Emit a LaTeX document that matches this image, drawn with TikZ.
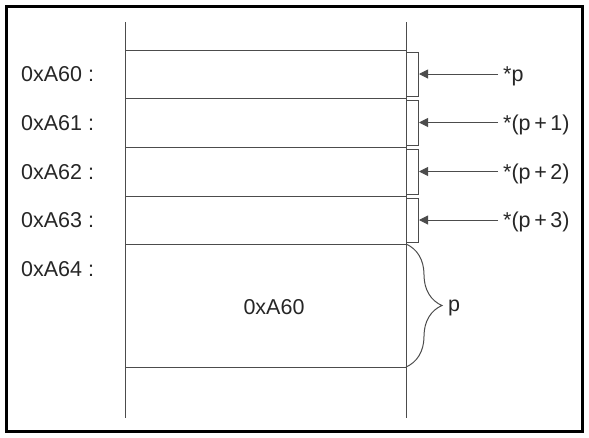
\documentclass[tikz,border=0pt]{standalone}
\usepackage{fontspec}
\setmainfont{Liberation Sans}
\usetikzlibrary{arrows.meta,decorations.pathreplacing}
\begin{document}
\begin{tikzpicture}[
x=1pt,y=-1pt,
line/.style={draw=black!70,line width=1pt},
lbl/.style={anchor=base west,inner sep=0pt,font=\fontsize{21.5}{24}\selectfont,text=black!85},
ptr/.style={line,-{Triangle[length=9pt,width=9pt]}}
]
\useasboundingbox (0,0) rectangle (589,437);
\draw[line width=3pt] (6,6) rectangle (582,431);
\draw[line] (125,22) -- (125,418);
\draw[line] (406,22) -- (406,418);
\foreach \y in {50,98,147,196,244,367}
	\draw[line] (125,\y) -- (406,\y);
\foreach \i/\t/\b/\s in {0/50/98/{*p},1/98/147/{*(p\,+\,1)},2/147/196/{*(p\,+\,2)},3/196/244/{*(p\,+\,3)}}
{
	\draw[line] (406,\t+2) -- (418,\t+2) -- (418,\b-2) -- (406,\b-2);
	\coordinate (b\i) at (419,{(\t+\b)/2});
	\node[lbl] (a\i) at (21,{(\t+\b)/2+7.5}) {0xA6\i{} :};
	\node[lbl] (s\i) at (503,{(\t+\b)/2+7.5}) {\s};
	\draw[ptr] ([xshift=-5pt,yshift=7.5pt]s\i.base west) -- (b\i);
}
\node[lbl] (a4) at (21,276) {0xA64 :};
\node[lbl,anchor=base] (val) at (274,314) {0xA60};
\draw[line,decorate,decoration={brace,amplitude=36pt}] (406,244) -- (406,367);
\node[lbl] (p) at (448,311) {p};
\end{tikzpicture}
\end{document}
